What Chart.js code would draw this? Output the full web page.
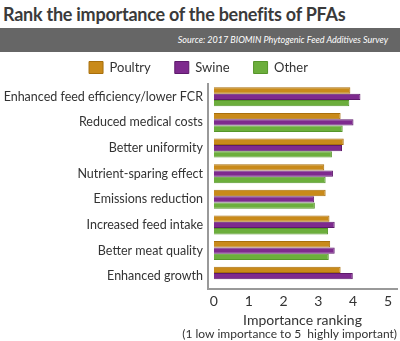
<!DOCTYPE html>
<html>
<head>
<meta charset="utf-8">
<script src="https://cdn.jsdelivr.net/npm/chart.js@4"></script>
<style>
  body { margin: 0; background: #fff; font-family: Lato, 'Open Sans', sans-serif; }
  #title { position: absolute; left: 3px; top: 3px; font-size: 18px; letter-spacing: -0.25px; font-weight: bold; color: #3a3a3a; white-space: nowrap; }
  #band { position: absolute; left: 0; top: 28px; width: 400px; height: 24px; background: #666; }
  #source { position: absolute; right: 12px; top: 6px; font-size: 9px; font-style: italic; color: #fff; }
  #wrap { position: absolute; left: 0; top: 37px; width: 400px; height: 304px; }
</style>
</head>
<body>
<div id="title">Rank the importance of the benefits of PFAs</div>
<div id="band"><div id="source">Source: 2017 BIOMIN Phytogenic Feed Additives Survey</div></div>
<div id="wrap"><canvas id="chart"></canvas></div>
<script>
const categories = ['Enhanced feed efficiency/lower FCR', 'Reduced medical costs', 'Better uniformity',
  'Nutrient-sparing effect', 'Emissions reduction', 'Increased feed intake', 'Better meat quality', 'Enhanced growth'];
const poultry = [3.92, 3.64, 3.73, 3.17, 3.21, 3.32, 3.34, 3.64];
const swine = [4.21, 4.01, 3.68, 3.42, 2.88, 3.47, 3.47, 3.99];
const other = [3.89, 3.70, 3.39, 3.21, 2.90, 3.28, 3.30, null];
const xTicks = [0, 1, 2, 3, 4, 5];

function initChart() {
    const ctx = document.getElementById('chart');
    new Chart(ctx, {
        type: 'bar',
        data: {
            labels: categories,
            datasets: [
                {
                    label: 'Poultry',
                    data: poultry,
                    backgroundColor: '#c98a1a',
                    borderColor: '#a86f0c',
                    borderWidth: 1
                },
                {
                    label: 'Swine',
                    data: swine,
                    backgroundColor: '#7e2a8e',
                    borderColor: '#5e1a6c',
                    borderWidth: 1
                },
                {
                    label: 'Other',
                    data: other,
                    backgroundColor: '#6cae3c',
                    borderColor: '#56952a',
                    borderWidth: 1
                }
            ]
        },
        options: {
            indexAxis: 'y',
            responsive: true,
            maintainAspectRatio: false,
            animation: false,
            layout: { padding: { left: 0, right: 3, bottom: 1 } },
            datasets: { bar: { categoryPercentage: 0.74, barPercentage: 1 } },
            scales: {
                x: {
                    min: -0.17,
                    max: 5.26,
                    afterBuildTicks: axis => { axis.ticks = xTicks.map(v => ({ value: v })); },
                    grid: { display: false, drawTicks: false },
                    border: { color: '#999', width: 2 },
                    ticks: { color: '#333', font: { family: 'Lato', size: 14, lineHeight: 1 }, padding: 5 },
                    title: {
                        display: true,
                        text: 'Importance ranking',
                        color: '#333',
                        font: { family: 'Lato', size: 14, lineHeight: 1 },
                        padding: { top: 0, bottom: 0 }
                    }
                },
                y: {
                    afterFit: scale => { scale.width = 208; },
                    grid: { display: false, drawTicks: false },
                    border: { color: '#999', width: 2 },
                    ticks: { color: '#333', font: { family: 'Lato', size: 12.5 }, padding: 5 }
                }
            },
            plugins: {
                legend: {
                    position: 'top',
                    labels: {
                        boxWidth: 14,
                        boxHeight: 12,
                        color: '#333',
                        font: { family: 'Lato', size: 13 },
                        padding: 24
                    }
                },
                title: {
                    display: true,
                    position: 'bottom',
                    align: 'end',
                    text: '(1 low importance to 5  highly important)',
                    color: '#333',
                    font: { family: 'Lato', size: 12, weight: 'normal', lineHeight: 1 },
                    padding: { top: 1, bottom: 0 }
                },
                tooltip: { enabled: false }
            }
        }
    });
}

initChart();
</script>
</body>
</html>
